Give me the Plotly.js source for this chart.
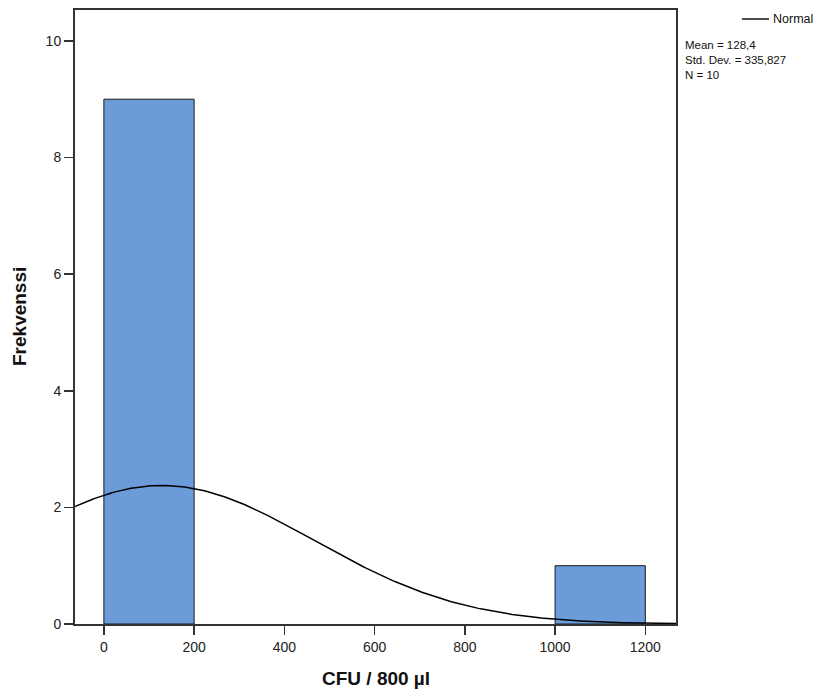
<!DOCTYPE html>
<html>
<head>
<meta charset="utf-8">
<script src="https://cdn.plot.ly/plotly-3.0.1.min.js"></script>
<style>html,body{margin:0;padding:0;background:#fff;}#chart{width:828px;height:693px;}</style>
</head>
<body>
<div id="chart"></div>
<script>
// Histogram bins (CFU / 800 µl) and counts
const binCenters = [100, 1100];
const binCounts = [9, 1];
const binWidth = 200;
// Summary statistics shown on the chart
const meanVal = 128.4;
const sdVal = 335.827;
const nVal = 10;
const xTicks = [0, 200, 400, 600, 800, 1000, 1200];
const yTicks = [0, 2, 4, 6, 8, 10];
const statLines = ["Mean = 128,4", "Std. Dev. = 335,827", "N = 10"];

// Fitted normal curve (scaled to counts), as drawn by SPSS from the stated Mean/SD/N
const curveX = [], curveY = [];
for (let x = -70; x <= 1270; x += 5) {
  const z = (x - meanVal) / sdVal;
  curveX.push(x);
  curveY.push(nVal * binWidth * Math.exp(-0.5 * z * z) / (sdVal * Math.sqrt(2 * Math.PI)));
}

const L = 75, T = 10, R = 676, B = 624;
const px = p => (p - L) / (R - L);
const py = p => (B - p) / (B - T);

const font = "Liberation Sans, Arial, sans-serif";
const traces = [
  {type: 'bar', x: binCenters, y: binCounts, width: binWidth,
   marker: {color: '#6c9bd9', line: {color: '#1a1a1a', width: 1}}, hoverinfo: 'skip'},
  {type: 'scatter', mode: 'lines', x: curveX, y: curveY,
   line: {color: '#000', width: 1.5}, hoverinfo: 'skip'}
];

const annotations = [
  {xref: 'paper', yref: 'paper', x: 0.5, y: 0, yanchor: 'middle', yshift: -54, showarrow: false,
   text: '<b>CFU / 800 µl</b>', font: {family: font, size: 19, color: '#111'}},
  {xref: 'paper', yref: 'paper', x: 0, y: 0.5, xanchor: 'center', xshift: -56, textangle: -90, showarrow: false,
   text: '<b>Frekvenssi</b>', font: {family: font, size: 19, color: '#111'}},
  {xref: 'paper', yref: 'paper', x: px(771), y: py(19), xanchor: 'left', yanchor: 'middle', showarrow: false,
   text: 'Normal', font: {family: font, size: 12.5, color: '#111'}},
  {xref: 'paper', yref: 'paper', x: px(683), y: py(60), xanchor: 'left', yanchor: 'middle', align: 'left', showarrow: false,
   text: statLines.join('<br>'), font: {family: font, size: 11.5, color: '#111'}}
];

const layout = {
  width: 828, height: 693,
  margin: {l: L, r: 828 - R, t: T, b: 693 - B},
  paper_bgcolor: '#fff', plot_bgcolor: '#fff',
  showlegend: false,
  bargap: 0,
  font: {family: font, color: '#222'},
  xaxis: {range: [-64, 1268], tickvals: xTicks, ticks: 'outside', ticklen: 9, tickwidth: 1.5, tickcolor: '#333',
          showgrid: false, zeroline: false, showline: true, mirror: true, linecolor: '#333', linewidth: 2,
          tickfont: {family: font, size: 14, color: '#222'}},
  yaxis: {range: [0, 10.53], tickvals: yTicks, ticks: 'outside', ticklen: 9, tickwidth: 1.5, tickcolor: '#333',
          showgrid: false, zeroline: false, showline: true, mirror: true, linecolor: '#333', linewidth: 2,
          tickfont: {family: font, size: 14, color: '#222'}},
  shapes: [
    {type: 'line', xref: 'paper', yref: 'paper', x0: px(742), x1: px(769), y0: py(19), y1: py(19),
     line: {color: '#111', width: 1.5}}
  ],
  annotations: annotations
};

Plotly.newPlot('chart', traces, layout, {staticPlot: true, displayModeBar: false});
</script>
</body>
</html>
